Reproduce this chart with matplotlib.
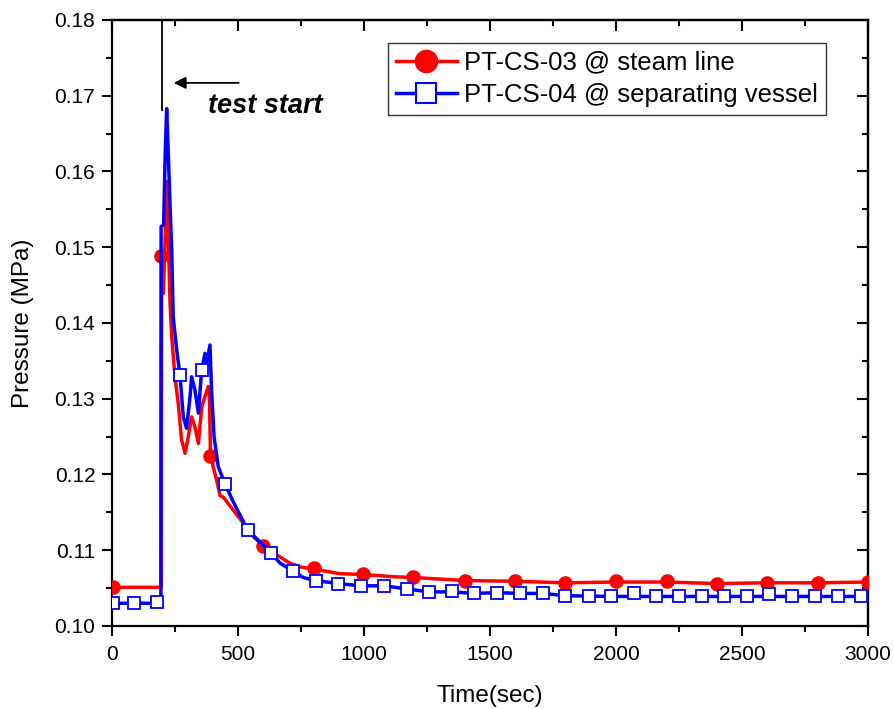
import matplotlib
matplotlib.use('Agg')
import matplotlib.pyplot as plt
from matplotlib.lines import Line2D
from matplotlib.ticker import MultipleLocator, FormatStrFormatter

plt.rcParams['font.family'] = ['Liberation Sans', 'DejaVu Sans']

# PT-CS-03 @ steam line (line trace)
t_cs03 = [0, 196, 197, 204, 210, 217, 223, 230, 237, 250, 263, 276, 290, 303, 316,
          329, 343, 356, 369, 382, 387, 391, 415, 429, 442, 481, 521, 561, 600, 653,
          706, 746, 802, 905, 996, 1115, 1195, 1401, 1599, 1798, 2000, 2200, 2400,
          2600, 2800, 3000]
p_cs03 = [0.1051, 0.1051, 0.1488, 0.1439, 0.1500, 0.1587, 0.1520, 0.1430, 0.1382,
          0.1329, 0.1294, 0.1246, 0.1228, 0.1250, 0.1276, 0.1263, 0.1241, 0.1289,
          0.1303, 0.1316, 0.1300, 0.1224, 0.1193, 0.1172, 0.1170, 0.1153, 0.1136,
          0.1118, 0.1106, 0.1094, 0.1083, 0.1078, 0.1075, 0.1069, 0.1068, 0.1065,
          0.1064, 0.1060, 0.1059, 0.1057, 0.1058, 0.1058, 0.1056, 0.1057, 0.1057,
          0.1058]
# symbols on the CS-03 trace
t_cs03_sym = [3, 196, 389, 599, 802, 996, 1195, 1401, 1599, 1798, 2000, 2203, 2400,
              2600, 2802, 3000]
p_cs03_sym = [0.1052, 0.1488, 0.1224, 0.1106, 0.1077, 0.1069, 0.1065, 0.1059, 0.1059,
              0.1057, 0.1059, 0.1059, 0.1056, 0.1057, 0.1057, 0.1058]

# PT-CS-04 @ separating vessel
t_cs04 = [0, 194, 195, 205, 211, 217, 223, 230, 237, 243, 257, 270, 283, 296, 310,
          316, 329, 343, 356, 369, 376, 389, 395, 405, 422, 448, 481, 538, 630, 667,
          720, 759, 808, 898, 988, 1079, 1169, 1259, 1348, 1438, 1529, 1619, 1709,
          1798, 1982, 2160, 2430, 2700, 3000]
p_cs04 = [0.1030, 0.1030, 0.1527, 0.1530, 0.1620, 0.1683, 0.1628, 0.1560, 0.1496,
          0.1408, 0.1364, 0.1331, 0.1276, 0.1261, 0.1303, 0.1329, 0.1312, 0.1281,
          0.1338, 0.1360, 0.1347, 0.1371, 0.1312, 0.1250, 0.1210, 0.1188, 0.1164,
          0.1127, 0.1097, 0.1083, 0.1072, 0.1064, 0.1060, 0.1056, 0.1053, 0.1053,
          0.1049, 0.1045, 0.1045, 0.1043, 0.1044, 0.1043, 0.1043, 0.1040, 0.1039,
          0.1039, 0.1039, 0.1039, 0.1039]
t_cs04_sym = [3, 89, 177, 270, 356, 448, 538, 630, 720, 808, 898, 988, 1079, 1169,
              1259, 1348, 1438, 1529, 1619, 1709, 1798, 1892, 1982, 2070, 2160, 2251,
              2342, 2430, 2520, 2609, 2700, 2790, 2881, 2973]
p_cs04_sym = [0.1030, 0.1030, 0.1031, 0.1331, 0.1338, 0.1188, 0.1127, 0.1097, 0.1072,
              0.1060, 0.1056, 0.1053, 0.1053, 0.1049, 0.1045, 0.1046, 0.1043, 0.1044,
              0.1044, 0.1044, 0.1039, 0.1039, 0.1039, 0.1043, 0.1039, 0.1040, 0.1040,
              0.1039, 0.1039, 0.1042, 0.1039, 0.1039, 0.1039, 0.1039]

labels = ['PT-CS-03 @ steam line', 'PT-CS-04 @ separating vessel']
t_start = 198

fig = plt.figure(figsize=(8.95, 7.09), dpi=100)
ax = fig.add_axes([0.1251, 0.1171, 0.8447, 0.8547])

ax.plot(t_cs03, p_cs03, color='red', lw=2.5, zorder=3)
ax.plot(t_cs03_sym, p_cs03_sym, 'o', color='red', ms=9.5, zorder=4)
ax.plot(t_cs04, p_cs04, color='blue', lw=2.5, zorder=5)
ax.plot(t_cs04_sym, p_cs04_sym, 's', mfc='white', mec='blue', mew=1.3, ms=8.5, zorder=6)

# test start marker
ax.plot([t_start, t_start], [0.1681, 0.18], color='black', lw=1.3, zorder=7)
ax.annotate('', xy=(245, 0.1717), xytext=(503, 0.1717),
            arrowprops=dict(arrowstyle='-|>', color='black', lw=1.3,
                            mutation_scale=18, shrinkA=0, shrinkB=0))
ax.text(381, 0.1687, 'test start', fontsize=19.5, fontweight='bold', style='italic',
        ha='left', va='center')

ax.set_xlim(0, 3000)
ax.set_ylim(0.10, 0.18)
ax.xaxis.set_major_locator(MultipleLocator(500))
ax.xaxis.set_minor_locator(MultipleLocator(250))
ax.yaxis.set_major_locator(MultipleLocator(0.01))
ax.yaxis.set_minor_locator(MultipleLocator(0.005))
ax.yaxis.set_major_formatter(FormatStrFormatter('%.2f'))

ax.tick_params(which='major', direction='out', length=7, width=1.5, labelsize=15, pad=5)
ax.tick_params(axis='x', which='major', pad=7)
ax.tick_params(which='minor', direction='out', length=4, width=1.5)
for s in ax.spines.values():
    s.set_linewidth(1.6)

# mirrored inward ticks on top and right
top = ax.secondary_xaxis('top')
top.xaxis.set_major_locator(MultipleLocator(500))
top.xaxis.set_minor_locator(MultipleLocator(250))
top.tick_params(which='major', direction='in', length=8, width=1.5, labeltop=False)
top.tick_params(which='minor', direction='in', length=4.5, width=1.5)
top.spines['top'].set_linewidth(1.6)
right = ax.secondary_yaxis('right')
right.yaxis.set_major_locator(MultipleLocator(0.01))
right.yaxis.set_minor_locator(MultipleLocator(0.005))
right.tick_params(which='major', direction='in', length=8, width=1.5, labelright=False)
right.tick_params(which='minor', direction='in', length=4.5, width=1.5)
right.spines['right'].set_linewidth(1.6)

ax.set_xlabel('Time(sec)', fontsize=17.5, labelpad=15)
ax.set_ylabel('Pressure (MPa)', fontsize=17.5, labelpad=15)

handles = [Line2D([], [], color='red', lw=2.5, marker='o', ms=16),
           Line2D([], [], color='blue', lw=2.5, marker='s', mfc='white', mec='blue',
                  mew=1.5, ms=14)]
leg = ax.legend(handles, labels, loc='upper left', bbox_to_anchor=(0.365, 0.962),
                borderaxespad=0, fontsize=18.5, fancybox=False, framealpha=1,
                edgecolor='#333333', handlelength=2.4, handletextpad=0.27,
                labelspacing=0.32, borderpad=0.3)
leg.get_frame().set_linewidth(1.0)

fig.savefig('out.png', dpi=100)
